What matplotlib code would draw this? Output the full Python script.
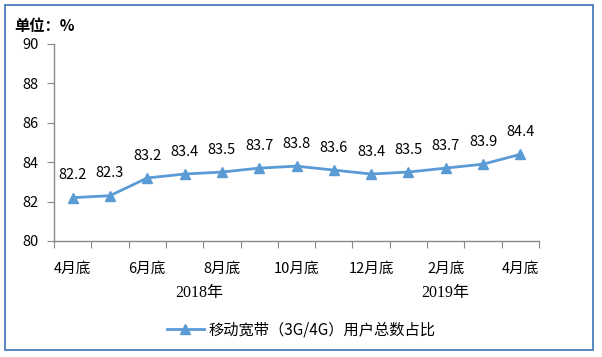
import matplotlib
matplotlib.use("Agg")
import matplotlib.pyplot as plt
from matplotlib.patches import Rectangle

plt.rcParams['font.family'] = ['Noto Sans CJK SC', 'DejaVu Sans']

months = ["4月底", "5月底", "6月底", "7月底", "8月底", "9月底", "10月底",
          "11月底", "12月底", "1月底", "2月底", "3月底", "4月底"]
values = [82.2, 82.3, 83.2, 83.4, 83.5, 83.7, 83.8, 83.6, 83.4, 83.5, 83.7, 83.9, 84.4]
years = ["2018年", "2019年"]
year_pos = [3.4, 10.0]
series_name = "移动宽带（3G/4G）用户总数占比"
yticks = [80, 82, 84, 86, 88, 90]

W, H = 602, 357
fig = plt.figure(figsize=(W / 100, H / 100), dpi=100)
ax = fig.add_axes([54 / W, 1 - 241 / H, (539 - 54) / W, (241 - 44) / H])

color = "#5B9BD5"
x = list(range(len(values)))
ax.plot(x, values, color=color, lw=2, marker="^", markersize=7, label=series_name)
for xi, v in zip(x, values):
    ax.annotate(f"{v:.1f}", (xi, v), xytext=(0, 16), textcoords="offset points",
                ha="center", va="center", fontsize=10.5, color="black")

ax.set_xlim(-0.5, len(values) - 0.5)
ax.set_ylim(80, 90)
ax.set_yticks(yticks)
ax.set_yticklabels([str(t) for t in yticks], fontsize=10.5)

# category boundaries as ticks
ax.set_xticks([i - 0.5 for i in range(len(values) + 1)])
ax.set_xticklabels([])
ax.set_xticks(x, minor=True)
ax.set_xticklabels([m if i % 2 == 0 else "" for i, m in enumerate(months)], minor=True,
                   fontsize=10.5)
ax.tick_params(axis="x", which="minor", length=0, pad=15)
ax.tick_params(axis="x", which="major", length=5, color="#888888", direction="out")
ax.tick_params(axis="y", length=5, color="#888888", pad=6)

for s in ["top", "right"]:
    ax.spines[s].set_visible(False)
for s in ["left", "bottom"]:
    ax.spines[s].set_color("#888888")
    ax.spines[s].set_linewidth(1)

for yr, p in zip(years, year_pos):
    ax.text(p, -52 / 197, yr, transform=ax.get_xaxis_transform(), ha="center", va="center",
            fontsize=11.5, family=["Liberation Serif", "Noto Sans CJK SC"])

fig.text(14 / W, 1 - 26 / H, "单位：%", fontsize=11, fontweight="bold",
         ha="left", va="center")

leg = fig.legend(loc="center", bbox_to_anchor=(0.5, 1 - 330 / H), frameon=False,
                 fontsize=11, handlelength=2.4, handletextpad=0.3)

fig.patches.append(Rectangle((5 / W, 1 - 350 / H), (593 - 5) / W, (350 - 5) / H,
                             transform=fig.transFigure, fill=False,
                             edgecolor="#4A7EBB", lw=1.3))

fig.savefig("out.png", dpi=100)
